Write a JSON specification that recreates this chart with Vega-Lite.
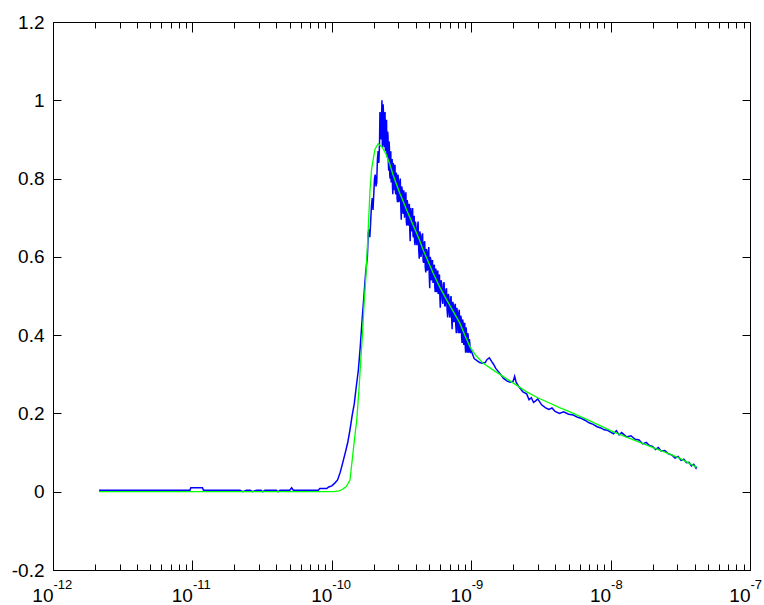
{
  "$schema": "https://vega.github.io/schema/vega-lite/v6.json",
  "width": 697,
  "height": 548,
  "autosize": {"type": "none"},
  "padding": {"left": 53, "top": 22, "right": 14, "bottom": 35},
  "background": "white",
  "config": {
    "view": {"stroke": null},
    "axis": {"grid": false, "title": null, "domainColor": "#000000", "domainWidth": 1, "labelColor": "#000000", "labelFont": "Liberation Sans", "labelOverlap": false, "labelFlush": false}
  },
  "datasets": {
    "blue": [
      {"t": 2.14e-12, "v": 0.004}, {"t": 9.6e-12, "v": 0.004}, {"t": 9.75e-12, "v": 0.01}, {"t": 1.18e-11, "v": 0.01}, {"t": 1.2e-11, "v": 0.004},
      {"t": 2.19e-11, "v": 0.004}, {"t": 2.3e-11, "v": 0.0}, {"t": 2.45e-11, "v": 0.004}, {"t": 2.6e-11, "v": 0.004}, {"t": 2.7e-11, "v": 0.0},
      {"t": 2.89e-11, "v": 0.004}, {"t": 3.1e-11, "v": 0.004}, {"t": 3.2e-11, "v": 0.0}, {"t": 3.32e-11, "v": 0.004}, {"t": 4.0e-11, "v": 0.004},
      {"t": 4.12e-11, "v": 0.0}, {"t": 4.25e-11, "v": 0.004}, {"t": 5.0e-11, "v": 0.004}, {"t": 5.15e-11, "v": 0.01}, {"t": 5.3e-11, "v": 0.004},
      {"t": 8.0e-11, "v": 0.004}, {"t": 8.2e-11, "v": 0.008}, {"t": 9.2e-11, "v": 0.008}, {"t": 9.5e-11, "v": 0.012}, {"t": 1.0e-10, "v": 0.015},
      {"t": 1.05e-10, "v": 0.022}, {"t": 1.1e-10, "v": 0.03}, {"t": 1.15e-10, "v": 0.05}, {"t": 1.2e-10, "v": 0.075}, {"t": 1.25e-10, "v": 0.1},
      {"t": 1.3e-10, "v": 0.125}, {"t": 1.35e-10, "v": 0.158}, {"t": 1.4e-10, "v": 0.195}, {"t": 1.45e-10, "v": 0.225}, {"t": 1.5e-10, "v": 0.27},
      {"t": 1.55e-10, "v": 0.31}, {"t": 1.6e-10, "v": 0.37}, {"t": 1.65e-10, "v": 0.44}, {"t": 1.7e-10, "v": 0.5}, {"t": 1.75e-10, "v": 0.56},
      {"t": 1.8e-10, "v": 0.6}, {"t": 1.825e-10, "v": 0.66}, {"t": 1.85e-10, "v": 0.67}, {"t": 1.875e-10, "v": 0.65}, {"t": 1.9e-10, "v": 0.69},
      {"t": 1.925e-10, "v": 0.73}, {"t": 1.95e-10, "v": 0.75}, {"t": 1.975e-10, "v": 0.72}, {"t": 2.0e-10, "v": 0.76}, {"t": 2.025e-10, "v": 0.8},
      {"t": 2.05e-10, "v": 0.81}, {"t": 2.075e-10, "v": 0.78}, {"t": 2.1e-10, "v": 0.79}, {"t": 2.125e-10, "v": 0.85}, {"t": 2.15e-10, "v": 0.87},
      {"t": 2.175e-10, "v": 0.84}, {"t": 2.2e-10, "v": 0.89}, {"t": 2.215e-10, "v": 0.97},
      {"t": 2.23e-10, "v": 0.965}, {"t": 2.245e-10, "v": 0.91}, {"t": 2.26e-10, "v": 0.9}, {"t": 2.275e-10, "v": 0.955}, {"t": 2.29e-10, "v": 1.0}, {"t": 2.305e-10, "v": 0.88},
      {"t": 2.32e-10, "v": 0.91}, {"t": 2.335e-10, "v": 0.99}, {"t": 2.35e-10, "v": 0.965}, {"t": 2.365e-10, "v": 0.89}, {"t": 2.38e-10, "v": 0.88}, {"t": 2.395e-10, "v": 0.95},
      {"t": 2.41e-10, "v": 0.97}, {"t": 2.425e-10, "v": 0.87}, {"t": 2.44e-10, "v": 0.89}, {"t": 2.455e-10, "v": 0.945}, {"t": 2.47e-10, "v": 0.95}, {"t": 2.485e-10, "v": 0.86},
      {"t": 2.5e-10, "v": 0.855}, {"t": 2.515e-10, "v": 0.92}, {"t": 2.53e-10, "v": 0.91}, {"t": 2.545e-10, "v": 0.84}, {"t": 2.56e-10, "v": 0.82}, {"t": 2.575e-10, "v": 0.895},
      {"t": 2.59e-10, "v": 0.88}, {"t": 2.605e-10, "v": 0.81}, {"t": 2.62e-10, "v": 0.8}, {"t": 2.635e-10, "v": 0.865}, {"t": 2.65e-10, "v": 0.87}, {"t": 2.665e-10, "v": 0.79},
      {"t": 2.68e-10, "v": 0.8}, {"t": 2.695e-10, "v": 0.845}, {"t": 2.71e-10, "v": 0.85}, {"t": 2.725e-10, "v": 0.78}, {"t": 2.74e-10, "v": 0.76}, {"t": 2.755e-10, "v": 0.84},
      {"t": 2.77e-10, "v": 0.835}, {"t": 2.785e-10, "v": 0.77}, {"t": 2.8e-10, "v": 0.79}, {"t": 2.82e-10, "v": 0.83}, {"t": 2.84e-10, "v": 0.835}, {"t": 2.86e-10, "v": 0.765},
      {"t": 2.88e-10, "v": 0.76}, {"t": 2.9e-10, "v": 0.815}, {"t": 2.92e-10, "v": 0.805}, {"t": 2.94e-10, "v": 0.75}, {"t": 2.96e-10, "v": 0.74}, {"t": 2.98e-10, "v": 0.81},
      {"t": 3.0e-10, "v": 0.8}, {"t": 3.025e-10, "v": 0.74}, {"t": 3.05e-10, "v": 0.745}, {"t": 3.075e-10, "v": 0.79}, {"t": 3.1e-10, "v": 0.8}, {"t": 3.125e-10, "v": 0.73},
      {"t": 3.15e-10, "v": 0.695}, {"t": 3.175e-10, "v": 0.78}, {"t": 3.2e-10, "v": 0.77}, {"t": 3.225e-10, "v": 0.72}, {"t": 3.25e-10, "v": 0.71}, {"t": 3.275e-10, "v": 0.77},
      {"t": 3.3e-10, "v": 0.765}, {"t": 3.325e-10, "v": 0.7}, {"t": 3.35e-10, "v": 0.71}, {"t": 3.375e-10, "v": 0.755}, {"t": 3.4e-10, "v": 0.765}, {"t": 3.425e-10, "v": 0.69},
      {"t": 3.45e-10, "v": 0.68}, {"t": 3.475e-10, "v": 0.745}, {"t": 3.5e-10, "v": 0.735}, {"t": 3.525e-10, "v": 0.685}, {"t": 3.55e-10, "v": 0.68}, {"t": 3.575e-10, "v": 0.73},
      {"t": 3.6e-10, "v": 0.735}, {"t": 3.625e-10, "v": 0.67}, {"t": 3.65e-10, "v": 0.64}, {"t": 3.675e-10, "v": 0.725}, {"t": 3.7e-10, "v": 0.715}, {"t": 3.725e-10, "v": 0.665},
      {"t": 3.75e-10, "v": 0.67}, {"t": 3.775e-10, "v": 0.71}, {"t": 3.8e-10, "v": 0.725}, {"t": 3.825e-10, "v": 0.655}, {"t": 3.85e-10, "v": 0.65}, {"t": 3.875e-10, "v": 0.7},
      {"t": 3.9e-10, "v": 0.705}, {"t": 3.925e-10, "v": 0.64}, {"t": 3.95e-10, "v": 0.63}, {"t": 3.975e-10, "v": 0.69}, {"t": 4.0e-10, "v": 0.685}, {"t": 4.04e-10, "v": 0.64},
      {"t": 4.08e-10, "v": 0.63}, {"t": 4.12e-10, "v": 0.675}, {"t": 4.16e-10, "v": 0.69}, {"t": 4.2e-10, "v": 0.62}, {"t": 4.24e-10, "v": 0.595}, {"t": 4.28e-10, "v": 0.665},
      {"t": 4.32e-10, "v": 0.655}, {"t": 4.36e-10, "v": 0.6}, {"t": 4.4e-10, "v": 0.61}, {"t": 4.44e-10, "v": 0.655}, {"t": 4.48e-10, "v": 0.66}, {"t": 4.52e-10, "v": 0.59},
      {"t": 4.56e-10, "v": 0.585}, {"t": 4.6e-10, "v": 0.635}, {"t": 4.64e-10, "v": 0.64}, {"t": 4.68e-10, "v": 0.575}, {"t": 4.72e-10, "v": 0.56}, {"t": 4.76e-10, "v": 0.62},
      {"t": 4.8e-10, "v": 0.615}, {"t": 4.84e-10, "v": 0.565}, {"t": 4.88e-10, "v": 0.57}, {"t": 4.92e-10, "v": 0.61}, {"t": 4.96e-10, "v": 0.625}, {"t": 5.0e-10, "v": 0.555},
      {"t": 5.04e-10, "v": 0.52}, {"t": 5.08e-10, "v": 0.6}, {"t": 5.12e-10, "v": 0.595}, {"t": 5.16e-10, "v": 0.545}, {"t": 5.2e-10, "v": 0.54}, {"t": 5.24e-10, "v": 0.59},
      {"t": 5.28e-10, "v": 0.59}, {"t": 5.32e-10, "v": 0.535}, {"t": 5.36e-10, "v": 0.535}, {"t": 5.4e-10, "v": 0.575}, {"t": 5.44e-10, "v": 0.58}, {"t": 5.48e-10, "v": 0.525},
      {"t": 5.52e-10, "v": 0.51}, {"t": 5.56e-10, "v": 0.57}, {"t": 5.6e-10, "v": 0.565}, {"t": 5.64e-10, "v": 0.515}, {"t": 5.68e-10, "v": 0.51}, {"t": 5.72e-10, "v": 0.555},
      {"t": 5.76e-10, "v": 0.565}, {"t": 5.8e-10, "v": 0.505}, {"t": 5.84e-10, "v": 0.51}, {"t": 5.88e-10, "v": 0.55}, {"t": 5.92e-10, "v": 0.555}, {"t": 5.96e-10, "v": 0.5},
      {"t": 6.0e-10, "v": 0.47}, {"t": 6.065e-10, "v": 0.54}, {"t": 6.13e-10, "v": 0.535}, {"t": 6.195e-10, "v": 0.49}, {"t": 6.26e-10, "v": 0.48}, {"t": 6.325e-10, "v": 0.53},
      {"t": 6.39e-10, "v": 0.535}, {"t": 6.455e-10, "v": 0.475}, {"t": 6.52e-10, "v": 0.475}, {"t": 6.585e-10, "v": 0.515}, {"t": 6.65e-10, "v": 0.52}, {"t": 6.715e-10, "v": 0.465},
      {"t": 6.78e-10, "v": 0.445}, {"t": 6.845e-10, "v": 0.505}, {"t": 6.91e-10, "v": 0.5}, {"t": 6.975e-10, "v": 0.455}, {"t": 7.04e-10, "v": 0.445}, {"t": 7.105e-10, "v": 0.49},
      {"t": 7.17e-10, "v": 0.5}, {"t": 7.235e-10, "v": 0.445}, {"t": 7.3e-10, "v": 0.415}, {"t": 7.365e-10, "v": 0.485}, {"t": 7.43e-10, "v": 0.48}, {"t": 7.495e-10, "v": 0.435},
      {"t": 7.56e-10, "v": 0.435}, {"t": 7.625e-10, "v": 0.475}, {"t": 7.69e-10, "v": 0.48}, {"t": 7.755e-10, "v": 0.425}, {"t": 7.82e-10, "v": 0.405}, {"t": 7.885e-10, "v": 0.47},
      {"t": 7.95e-10, "v": 0.46}, {"t": 8.015e-10, "v": 0.42}, {"t": 8.08e-10, "v": 0.405}, {"t": 8.145e-10, "v": 0.455}, {"t": 8.21e-10, "v": 0.465}, {"t": 8.275e-10, "v": 0.405},
      {"t": 8.34e-10, "v": 0.41}, {"t": 8.405e-10, "v": 0.45}, {"t": 8.47e-10, "v": 0.445}, {"t": 8.535e-10, "v": 0.395}, {"t": 8.6e-10, "v": 0.38}, {"t": 8.665e-10, "v": 0.44},
      {"t": 8.73e-10, "v": 0.435}, {"t": 8.795e-10, "v": 0.385}, {"t": 8.86e-10, "v": 0.375}, {"t": 8.925e-10, "v": 0.43}, {"t": 8.99e-10, "v": 0.43}, {"t": 9.055e-10, "v": 0.375},
      {"t": 9.12e-10, "v": 0.355}, {"t": 9.185e-10, "v": 0.42}, {"t": 9.25e-10, "v": 0.41}, {"t": 9.315e-10, "v": 0.365}, {"t": 9.38e-10, "v": 0.355}, {"t": 9.445e-10, "v": 0.405},
      {"t": 9.51e-10, "v": 0.4}, {"t": 9.575e-10, "v": 0.36}, {"t": 9.64e-10, "v": 0.355}, {"t": 9.705e-10, "v": 0.39}, {"t": 9.77e-10, "v": 0.38}, {"t": 9.835e-10, "v": 0.36},
      {"t": 9.9e-10, "v": 0.357},
      {"t": 1.0e-9, "v": 0.36}, {"t": 1.05e-9, "v": 0.34}, {"t": 1.1e-9, "v": 0.335}, {"t": 1.15e-9, "v": 0.33}, {"t": 1.2e-9, "v": 0.328},
      {"t": 1.26e-9, "v": 0.33}, {"t": 1.3e-9, "v": 0.338}, {"t": 1.35e-9, "v": 0.342}, {"t": 1.4e-9, "v": 0.333}, {"t": 1.45e-9, "v": 0.325},
      {"t": 1.5e-9, "v": 0.315}, {"t": 1.6e-9, "v": 0.303}, {"t": 1.7e-9, "v": 0.29}, {"t": 1.8e-9, "v": 0.283}, {"t": 1.9e-9, "v": 0.28},
      {"t": 2.0e-9, "v": 0.282}, {"t": 2.05e-9, "v": 0.295}, {"t": 2.1e-9, "v": 0.28}, {"t": 2.2e-9, "v": 0.268}, {"t": 2.35e-9, "v": 0.255},
      {"t": 2.5e-9, "v": 0.25}, {"t": 2.6e-9, "v": 0.235}, {"t": 2.7e-9, "v": 0.24}, {"t": 2.8e-9, "v": 0.228}, {"t": 2.9e-9, "v": 0.232},
      {"t": 3.0e-9, "v": 0.237}, {"t": 3.2e-9, "v": 0.222}, {"t": 3.4e-9, "v": 0.215}, {"t": 3.6e-9, "v": 0.21}, {"t": 3.8e-9, "v": 0.214},
      {"t": 4.0e-9, "v": 0.205}, {"t": 4.3e-9, "v": 0.2}, {"t": 4.6e-9, "v": 0.204}, {"t": 5.0e-9, "v": 0.198}, {"t": 5.4e-9, "v": 0.196},
      {"t": 5.8e-9, "v": 0.19}, {"t": 6.2e-9, "v": 0.187}, {"t": 6.6e-9, "v": 0.182}, {"t": 7.0e-9, "v": 0.176}, {"t": 7.5e-9, "v": 0.172},
      {"t": 8.0e-9, "v": 0.166}, {"t": 8.5e-9, "v": 0.163}, {"t": 9.0e-9, "v": 0.158}, {"t": 9.5e-9, "v": 0.157}, {"t": 1.0e-8, "v": 0.152},
      {"t": 1.05e-8, "v": 0.148}, {"t": 1.1e-8, "v": 0.156}, {"t": 1.15e-8, "v": 0.145}, {"t": 1.2e-8, "v": 0.151}, {"t": 1.3e-8, "v": 0.14},
      {"t": 1.4e-8, "v": 0.143}, {"t": 1.5e-8, "v": 0.134}, {"t": 1.6e-8, "v": 0.132}, {"t": 1.7e-8, "v": 0.122}, {"t": 1.8e-8, "v": 0.126},
      {"t": 1.9e-8, "v": 0.118}, {"t": 2.0e-8, "v": 0.116}, {"t": 2.1e-8, "v": 0.108}, {"t": 2.2e-8, "v": 0.113}, {"t": 2.3e-8, "v": 0.104},
      {"t": 2.45e-8, "v": 0.105}, {"t": 2.6e-8, "v": 0.097}, {"t": 2.75e-8, "v": 0.094}, {"t": 2.9e-8, "v": 0.086}, {"t": 3.05e-8, "v": 0.09},
      {"t": 3.2e-8, "v": 0.08}, {"t": 3.35e-8, "v": 0.083}, {"t": 3.5e-8, "v": 0.074}, {"t": 3.65e-8, "v": 0.075}, {"t": 3.8e-8, "v": 0.066},
      {"t": 3.95e-8, "v": 0.07}, {"t": 4.1e-8, "v": 0.06}, {"t": 4.15e-8, "v": 0.064}
    ],
    "green": [
      {"t": 2.14e-12, "v": 0.0}, {"t": 1.03e-10, "v": 0.0}, {"t": 1.13e-10, "v": 0.002}, {"t": 1.18e-10, "v": 0.005}, {"t": 1.27e-10, "v": 0.013},
      {"t": 1.35e-10, "v": 0.03}, {"t": 1.4e-10, "v": 0.08}, {"t": 1.45e-10, "v": 0.13}, {"t": 1.51e-10, "v": 0.183}, {"t": 1.565e-10, "v": 0.26},
      {"t": 1.61e-10, "v": 0.33}, {"t": 1.665e-10, "v": 0.41}, {"t": 1.71e-10, "v": 0.49}, {"t": 1.75e-10, "v": 0.54}, {"t": 1.78e-10, "v": 0.592},
      {"t": 1.83e-10, "v": 0.68}, {"t": 1.88e-10, "v": 0.77}, {"t": 1.93e-10, "v": 0.825}, {"t": 2.04e-10, "v": 0.875}, {"t": 2.15e-10, "v": 0.889},
      {"t": 2.3e-10, "v": 0.88}, {"t": 2.45e-10, "v": 0.862}, {"t": 2.6e-10, "v": 0.838}, {"t": 2.76e-10, "v": 0.808}, {"t": 2.9e-10, "v": 0.787},
      {"t": 3.08e-10, "v": 0.762}, {"t": 3.25e-10, "v": 0.742}, {"t": 3.44e-10, "v": 0.72}, {"t": 3.64e-10, "v": 0.7}, {"t": 3.84e-10, "v": 0.68},
      {"t": 4.2e-10, "v": 0.648}, {"t": 4.53e-10, "v": 0.617}, {"t": 4.9e-10, "v": 0.589}, {"t": 5.34e-10, "v": 0.558}, {"t": 6.0e-10, "v": 0.52},
      {"t": 6.67e-10, "v": 0.49}, {"t": 7.5e-10, "v": 0.458}, {"t": 8.31e-10, "v": 0.43}, {"t": 9.0e-10, "v": 0.4}, {"t": 9.8e-10, "v": 0.37},
      {"t": 1.08e-9, "v": 0.348}, {"t": 1.22e-9, "v": 0.328}, {"t": 1.45e-9, "v": 0.31}, {"t": 1.7e-9, "v": 0.294}, {"t": 2.1e-9, "v": 0.273},
      {"t": 2.5e-9, "v": 0.255}, {"t": 3.0e-9, "v": 0.24}, {"t": 3.675e-9, "v": 0.226}, {"t": 4.3e-9, "v": 0.215}, {"t": 5.11e-9, "v": 0.204},
      {"t": 6.92e-9, "v": 0.183}, {"t": 1.046e-8, "v": 0.153}, {"t": 1.4e-8, "v": 0.135}, {"t": 1.816e-8, "v": 0.119}, {"t": 2.45e-8, "v": 0.101},
      {"t": 3.147e-8, "v": 0.085}, {"t": 4.146e-8, "v": 0.062}
    ]
  },
  "layer": [
    {
      "data": {"name": "blue"},
      "mark": {"type": "line", "color": "#0000ff", "strokeWidth": 1.5},
      "encoding": {
        "x": {"field": "t", "type": "quantitative", "scale": {"type": "log", "domain": [1e-12, 1e-7], "nice": false},
          "axis": {"orient": "bottom", "labels": false, "domain": true, "tickSize": -6, "tickColor": "#000000", "tickWidth": 1,
            "values": [2e-12,3e-12,4e-12,5e-12,6e-12,7e-12,8e-12,9e-12,2e-11,3e-11,4e-11,5e-11,6e-11,7e-11,8e-11,9e-11,2e-10,3e-10,4e-10,5e-10,6e-10,7e-10,8e-10,9e-10,2e-9,3e-9,4e-9,5e-9,6e-9,7e-9,8e-9,9e-9,2e-8,3e-8,4e-8,5e-8,6e-8,7e-8,8e-8,9e-8]}},
        "y": {"field": "v", "type": "quantitative", "scale": {"domain": [-0.2, 1.2], "nice": false, "zero": false},
          "axis": {"orient": "left", "labels": false, "tickSize": -8, "tickColor": "#000000", "tickWidth": 1, "values": [-0.2, 0, 0.2, 0.4, 0.6, 0.8, 1, 1.2]}}
      }
    },
    {
      "data": {"name": "green"},
      "mark": {"type": "line", "color": "#00ff00", "strokeWidth": 1.3},
      "encoding": {
        "x": {"field": "t", "type": "quantitative", "scale": {"type": "log", "domain": [1e-12, 1e-7], "nice": false},
          "axis": {"orient": "top", "labels": false, "domain": true, "tickSize": -6, "tickColor": "#000000", "tickWidth": 1,
            "values": [2e-12,3e-12,4e-12,5e-12,6e-12,7e-12,8e-12,9e-12,2e-11,3e-11,4e-11,5e-11,6e-11,7e-11,8e-11,9e-11,2e-10,3e-10,4e-10,5e-10,6e-10,7e-10,8e-10,9e-10,2e-9,3e-9,4e-9,5e-9,6e-9,7e-9,8e-9,9e-9,2e-8,3e-8,4e-8,5e-8,6e-8,7e-8,8e-8,9e-8]}},
        "y": {"field": "v", "type": "quantitative", "scale": {"domain": [-0.2, 1.2], "nice": false, "zero": false},
          "axis": {"orient": "right", "labels": false, "tickSize": -8, "tickColor": "#000000", "tickWidth": 1, "values": [-0.2, 0, 0.2, 0.4, 0.6, 0.8, 1, 1.2]}}
      }
    },
    {
      "data": {"name": "green"},
      "mark": {"type": "line", "opacity": 0},
      "encoding": {
        "x": {"field": "t", "type": "quantitative", "scale": {"type": "log", "domain": [1e-12, 1e-7], "nice": false},
          "axis": {"orient": "bottom", "domain": false, "ticks": false, "values": [1e-12, 1e-11, 1e-10, 1e-9, 1e-8, 1e-7],
            "labelExpr": "'10'", "labelFontSize": 19, "labelAlign": "right", "labelBaseline": "alphabetic", "labelPadding": 31, "labelDx": 1}},
        "y": {"field": "v", "type": "quantitative", "scale": {"domain": [-0.2, 1.2], "nice": false, "zero": false},
          "axis": {"orient": "left", "domain": false, "ticks": false, "values": [-0.2, 0, 0.2, 0.4, 0.6, 0.8, 1, 1.2],
            "labelExpr": "'' + round(datum.value * 10) / 10", "labelFontSize": 19, "labelAlign": "right", "labelBaseline": "middle", "labelPadding": 9}}
      }
    },
    {
      "data": {"name": "green"},
      "mark": {"type": "line", "opacity": 0},
      "encoding": {
        "x": {"field": "t", "type": "quantitative", "scale": {"type": "log", "domain": [1e-12, 1e-7], "nice": false},
          "axis": {"orient": "bottom", "domain": false, "ticks": false, "values": [1e-12, 1e-11, 1e-10, 1e-9, 1e-8, 1e-7],
            "labelExpr": "['-12', '-11', '-10', '-9', '-8', '-7'][round(log(datum.value) / LN10) + 12]", "labelFontSize": 13, "labelAlign": "left", "labelBaseline": "alphabetic", "labelPadding": 18, "labelDx": 2}},
        "y": {"field": "v", "type": "quantitative", "scale": {"domain": [-0.2, 1.2], "nice": false, "zero": false}, "axis": null}
      }
    },
    {
      "data": {"name": "green"},
      "mark": {"type": "line", "opacity": 0},
      "encoding": {
        "x": {"field": "t", "type": "quantitative", "scale": {"type": "log", "domain": [1e-12, 1e-7], "nice": false},
          "axis": {"orient": "bottom", "domain": false, "labels": false, "tickSize": -10, "tickColor": "#000000", "tickWidth": 1, "values": [1e-12, 1e-11, 1e-10, 1e-9, 1e-8, 1e-7]}},
        "y": {"field": "v", "type": "quantitative", "scale": {"domain": [-0.2, 1.2], "nice": false, "zero": false}, "axis": null}
      }
    },
    {
      "data": {"name": "green"},
      "mark": {"type": "line", "opacity": 0},
      "encoding": {
        "x": {"field": "t", "type": "quantitative", "scale": {"type": "log", "domain": [1e-12, 1e-7], "nice": false},
          "axis": {"orient": "top", "domain": false, "labels": false, "tickSize": -10, "tickColor": "#000000", "tickWidth": 1, "values": [1e-12, 1e-11, 1e-10, 1e-9, 1e-8, 1e-7]}},
        "y": {"field": "v", "type": "quantitative", "scale": {"domain": [-0.2, 1.2], "nice": false, "zero": false}, "axis": null}
      }
    }
  ],
  "resolve": {"axis": {"x": "independent", "y": "independent"}}
}
